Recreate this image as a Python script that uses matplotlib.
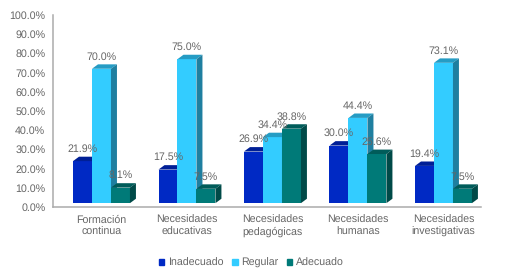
import numpy as np
import matplotlib
matplotlib.use('Agg')
import matplotlib.pyplot as plt
from matplotlib.patches import Polygon, Patch

categories = ['Formación\ncontinua', 'Necesidades\neducativas', 'Necesidades\npedagógicas',
              'Necesidades\nhumanas', 'Necesidades\ninvestigativas']
inadecuado = [21.9, 17.5, 26.9, 30.0, 19.4]
regular = [70.0, 75.0, 34.4, 44.4, 73.1]
adecuado = [8.1, 7.5, 38.8, 25.6, 7.5]
yticks = [0, 10, 20, 30, 40, 50, 60, 70, 80, 90, 100]

names = ['Inadecuado', 'Regular', 'Adecuado']
front = ['#0029C4', '#33CCFF', '#007A78']
top = ['#001F96', '#259CC4', '#005C5A']
side = ['#001A7D', '#1F7FA0', '#004A48']

GREY = '#666666'
AXIS = '#ABABAB'
W, H = 509, 275
FS = 7.7

plt.rcParams['font.family'] = ['Liberation Sans', 'DejaVu Sans']
plt.rcParams['text.hinting'] = 'none'

fig = plt.figure(figsize=(W / 100, H / 100), dpi=100)
ax = fig.add_axes([53 / W, 1 - 207 / H, 428 / W, 192 / H])
ax.set_xlim(-0.567, 4.439)
ax.set_ylim(0, 100)

#---3D look
base = 2.0
width = 0.222
dx = 0.07
dy = 2.3
x = np.arange(len(categories))

for s, vals in enumerate([inadecuado, regular, adecuado]):
    left = x + (s - 1.5) * width
    ax.bar(left, vals, width, bottom=base, align='edge', color=front[s], zorder=3 + s)
    for l, v in zip(left, vals):
        t = base + v
        r = l + width
        ax.add_patch(Polygon([(l, t), (r, t), (r + dx, t + dy), (l + dx, t + dy)],
                             closed=True, fc=top[s], ec='none', zorder=3 + s))
        ax.add_patch(Polygon([(r, base), (r + dx, base + dy), (r + dx, t + dy), (r, t)],
                             closed=True, fc=side[s], ec='none', zorder=3 + s))
        ax.annotate('%.1f%%' % v, (l + width / 2, t), xytext=(0, 5), textcoords='offset points',
                    ha='center', va='bottom', fontsize=FS, color=GREY, zorder=10)

ax.set_yticks(yticks)
ax.set_yticklabels(['%.1f%%' % v for v in yticks], fontsize=FS, color=GREY)
ax.set_xticks(x)
ax.set_xticklabels(categories, fontsize=FS, color=GREY, linespacing=1.25)
ax.tick_params(axis='both', length=0)
ax.tick_params(axis='x', pad=5.5)
ax.tick_params(axis='y', pad=5.5)

for k in ['top', 'right']:
    ax.spines[k].set_visible(False)
for k in ['left', 'bottom']:
    ax.spines[k].set_color(AXIS)
    ax.spines[k].set_linewidth(1.1)

handles = [Patch(color=c, label=n) for c, n in zip(front, names)]
fig.legend(handles=handles, ncols=3, loc='center', bbox_to_anchor=(251 / W, 1 - 263 / H),
           frameon=False, fontsize=FS, labelcolor=GREY, handlelength=0.55, handleheight=0.55,
           handletextpad=0.3, columnspacing=0.8, borderpad=0)

plt.savefig('out.png', dpi=100)
